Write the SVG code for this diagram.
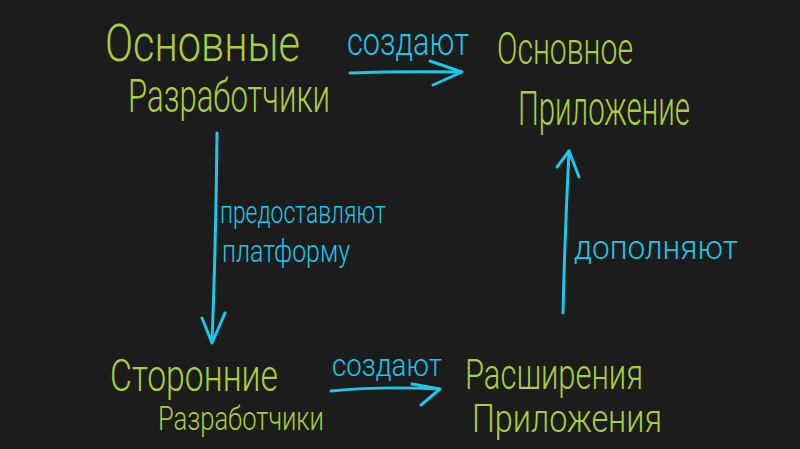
<svg xmlns="http://www.w3.org/2000/svg" width="800" height="449" viewBox="0 0 800 449">
<style>
.n{fill:#a8cf3e;font-family:Roboto,"Liberation Sans","DejaVu Sans",sans-serif;font-weight:300;}
.l{fill:#1ec6e8;font-family:Roboto,"Liberation Sans","DejaVu Sans",sans-serif;font-weight:300;}
.c{fill:none;stroke:#1ec6e8;stroke-width:3;stroke-linecap:round;stroke-linejoin:round;}
</style>
<rect width="800" height="449" fill="#1c1c1c"/>
<g id="core-devs"><text class="n" x="105" y="61" font-size="52" textLength="195" lengthAdjust="spacingAndGlyphs">Основные</text><text class="n" x="128" y="112" font-size="46" textLength="202" lengthAdjust="spacingAndGlyphs">Разработчики</text></g>
<g id="core-app"><text class="n" x="497" y="64" font-size="44" textLength="136" lengthAdjust="spacingAndGlyphs">Основное</text><text class="n" x="518" y="125" font-size="48" textLength="172" lengthAdjust="spacingAndGlyphs">Приложение</text></g>
<g id="third-devs"><text class="n" x="110" y="391" font-size="44" textLength="168" lengthAdjust="spacingAndGlyphs">Сторонние</text><text class="n" x="158" y="430" font-size="34" textLength="166" lengthAdjust="spacingAndGlyphs">Разработчики</text></g>
<g id="extensions"><text class="n" x="465" y="389" font-size="42" textLength="178" lengthAdjust="spacingAndGlyphs">Расширения</text><text class="n" x="472" y="432" font-size="38" textLength="190" lengthAdjust="spacingAndGlyphs">Приложения</text></g>
<g id="connectors">
<path class="c" d="M350 73 Q400 71 461 72"/><path class="c" d="M430 61 L462 72 L433 85"/>
<text class="l" x="347" y="55" font-size="38" textLength="122" lengthAdjust="spacingAndGlyphs">создают</text>
<path class="c" d="M217 133 Q216 240 212 342"/><path class="c" d="M202 318 L212 343 L225 313"/>
<text class="l" x="220" y="223" font-size="32" textLength="166" lengthAdjust="spacingAndGlyphs">предоставляют</text>
<text class="l" x="222" y="262" font-size="32" textLength="128" lengthAdjust="spacingAndGlyphs">платформу</text>
<path class="c" d="M563 313 Q565 230 569 151"/><path class="c" d="M557 167 L569 151 L579 177"/>
<text class="l" x="574" y="259" font-size="34" textLength="164" lengthAdjust="spacingAndGlyphs">дополняют</text>
<path class="c" d="M331 391 Q380 386 439 389"/><path class="c" d="M412 384 L440 389 L421 405"/>
<text class="l" x="332" y="376" font-size="32" textLength="110" lengthAdjust="spacingAndGlyphs">создают</text>
</g>
</svg>
